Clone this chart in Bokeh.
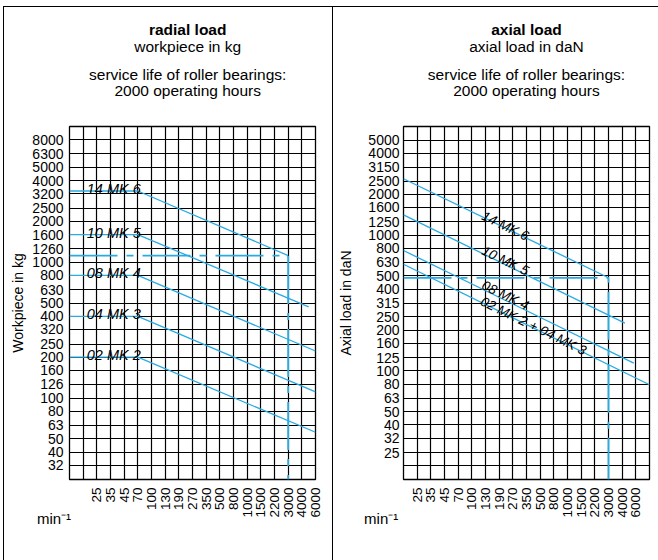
import math
import numpy as np
from bokeh.plotting import figure
from bokeh.layouts import row
from bokeh.models import (Range1d, FixedTicker, Title, ColumnDataSource,
                          NumeralTickFormatter)
from bokeh.core.properties import value
from bokeh.embed import file_html
from bokeh.resources import INLINE

FONT = "Liberation Sans"
BLUE = "#29ABE2"

# ---------------- data ----------------
speed_labels = ["25", "35", "45", "70", "100", "130", "190", "270", "350",
                "500", "800", "1000", "1500", "2200", "3000", "4000", "6000"]

radial_ticks = [8000, 6300, 5000, 4000, 3200, 2500, 2000, 1600, 1260, 1000,
                800, 630, 500, 400, 320, 250, 200, 160, 126, 100, 80, 63, 50, 40, 32]
axial_ticks = [5000, 4000, 3150, 2500, 2000, 1600, 1250, 1000, 800, 630, 500,
               400, 315, 250, 200, 160, 125, 100, 80, 63, 50, 40, 32, 25]
axial_grid_extra = [20]

# radial load (workpiece in kg); x = column on the speed grid
radial_names = ["14 MK 6", "10 MK 5", "08 MK 4", "04 MK 3", "02 MK 2"]
mk6_rad_col = [0, 5, 16]
mk6_rad_kg = [3350, 3350, 1120]
mk5_rad_col = [0, 5, 17.5]
mk5_rad_kg = [1600, 1600, 470]
mk4_rad_col = [0, 5, 18]
mk4_rad_kg = [800, 800, 222]
mk3_rad_col = [0, 5, 18]
mk3_rad_kg = [400, 400, 111]
mk2_rad_col = [0, 5, 18]
mk2_rad_kg = [200, 200, 56]
radial_guide_col = 16
radial_guide_kg = 1120

# axial load (daN)
axial_names = ["14 MK 6", "10 MK 5", "08 MK 4", "02 MK 2 + 04 MK 3"]
mk6_ax_col = [0, 15]
mk6_ax_dan = [2600, 485]
mk5_ax_col = [0, 16.2]
mk5_ax_dan = [1410, 225]
mk4_ax_col = [0, 16.85]
mk4_ax_dan = [770, 114]
mk23_ax_col = [0, 18]
mk23_ax_dan = [610, 79]
axial_guide_col = 15
axial_guide_dan = 485

radial_titles = ["radial load", "workpiece in kg",
                 "service life of roller bearings:", "2000 operating hours"]
axial_titles = ["axial load", "axial load in daN",
                "service life of roller bearings:", "2000 operating hours"]

# ---------------- layout constants ----------------
H = 560
FT, FH = 126, 353
FW = 246
NCOL = 18
TITLE_PX = 15.5

# Arial / Liberation Sans advance widths (1/1000 em) for title centring
W_REG = {" ": 278, "a": 556, "b": 556, "c": 500, "d": 556, "e": 556, "f": 278,
         "g": 556, "h": 556, "i": 222, "k": 500, "l": 222, "n": 556, "o": 556,
         "p": 556, "r": 333, "s": 500, "t": 278, "u": 556, "v": 500, "w": 722,
         "x": 500, "N": 722, "0": 556, "2": 556, ":": 278}
W_BOLD = {" ": 278, "a": 556, "d": 611, "i": 278, "l": 278, "o": 611, "r": 389,
          "x": 556}


def text_width(s, bold=False):
    tab = W_BOLD if bold else W_REG
    return sum(tab.get(ch, 556) for ch in s) * TITLE_PX / 1000.0


def make_panel(width, fl, lo, hi, yticks, ygrid, first_pos, ylabel,
               ylabel_standoff, ytick_standoff, css_bg):
    fr = width - fl - FW
    p = figure(width=width, height=H, output_backend="svg", toolbar_location=None,
               tools="", x_range=Range1d(0, NCOL),
               y_range=Range1d(10 ** lo, 10 ** hi), y_axis_type="log",
               min_border_left=fl, min_border_right=fr,
               min_border_top=FT, min_border_bottom=H - FT - FH)
    p.title.visible = False
    p.background_fill_color = "white"
    p.border_fill_alpha = 0
    p.outline_line_color = "black"
    p.outline_line_width = 1.3
    p.styles = css_bg

    # y axis
    ya = p.yaxis[0]
    ya.ticker = FixedTicker(ticks=yticks, minor_ticks=[])
    ya.formatter = NumeralTickFormatter(format="0")
    ya.axis_line_color = None
    ya.major_tick_line_color = None
    ya.minor_tick_line_color = None
    ya.major_tick_out = 0
    ya.major_tick_in = 0
    ya.major_label_standoff = ytick_standoff
    ya.major_label_text_font = FONT
    ya.major_label_text_font_size = "14px"
    ya.major_label_text_color = "black"
    ya.axis_label = ylabel
    ya.axis_label_text_font = FONT
    ya.axis_label_text_font_size = "14px"
    ya.axis_label_text_font_style = "normal"
    ya.axis_label_text_color = "black"
    ya.axis_label_standoff = ylabel_standoff

    # x axis
    xpos = [first_pos + i for i in range(len(speed_labels))]
    xa = p.xaxis[0]
    xa.ticker = FixedTicker(ticks=xpos, minor_ticks=[])
    xa.major_label_overrides = {pos: lab for pos, lab in zip(xpos, speed_labels)}
    xa.major_label_orientation = math.pi / 2
    xa.axis_line_color = None
    xa.major_tick_line_color = None
    xa.minor_tick_line_color = None
    xa.major_tick_out = 0
    xa.major_tick_in = 0
    xa.major_label_standoff = 8
    xa.major_label_text_font = FONT
    xa.major_label_text_font_size = "13.5px"
    xa.major_label_text_color = "black"

    # grid
    p.xgrid.ticker = FixedTicker(ticks=list(range(NCOL + 1)))
    p.ygrid.ticker = FixedTicker(ticks=ygrid)
    for g in (p.xgrid[0], p.ygrid[0]):
        g.grid_line_color = "black"
        g.grid_line_width = 1.2
        g.grid_line_alpha = 1.0
    return p


def add_titles(p, texts, unit_offset, center_from_frame=None):
    def spacer(h):
        p.add_layout(Title(text=" ", text_font_size="10px", standoff=h - 13.2), "above")

    def line(text, style, standoff):
        if center_from_frame is None:
            kw = dict(align="center")
        else:
            w = text_width(text, bold=(style == "bold"))
            kw = dict(align="left", offset=center_from_frame - w / 2.0)
        p.add_layout(Title(text=text, vertical_align="bottom",
                           text_font=FONT, text_font_size="%gpx" % TITLE_PX,
                           text_font_style=style, text_color="black",
                           standoff=standoff, **kw), "above")

    # closest to the frame first
    spacer(28.1)
    line(texts[3], "normal", 0)
    line(texts[2], "normal", -7)
    spacer(13.4)
    line(texts[1], "normal", 0)
    line(texts[0], "bold", -4)

    p.add_layout(Title(text="min\u207b\u00b9", align="left", vertical_align="top",
                       offset=unit_offset, standoff=-21, text_font=FONT,
                       text_font_size="15px", text_font_style="normal",
                       text_color="black"), "below")


# ---------------- left panel: radial load ----------------
W1 = 333
css1 = {
    "background-image": "linear-gradient(#000,#000), linear-gradient(#000,#000), linear-gradient(#000,#000)",
    "background-size": "330px 1px, 1px 554px, 1px 554px",
    "background-position": "3px 6px, 3px 6px, 332px 6px",
    "background-repeat": "no-repeat",
}
p1 = make_panel(W1, 69, 1.4, 4.0, radial_ticks, radial_ticks, 2,
                "Workpiece in kg", 3, 6, css1)

rad_cols = [mk6_rad_col, mk5_rad_col, mk4_rad_col, mk3_rad_col, mk2_rad_col]
rad_vals = [mk6_rad_kg, mk5_rad_kg, mk4_rad_kg, mk3_rad_kg, mk2_rad_kg]
for c, v in zip(rad_cols, rad_vals):
    p1.line(c, v, line_color=BLUE, line_width=1.3)

p1.line([0, radial_guide_col, radial_guide_col],
        [radial_guide_kg, radial_guide_kg, 10 ** 1.4],
        line_color=BLUE, line_width=1.8, line_dash="48 9 7 9")

lift1 = 10 ** (2.0 * 2.6 / FH)
src1 = ColumnDataSource(dict(x=[1.26] * len(radial_names),
                             y=[v[0] * lift1 for v in rad_vals],
                             text=radial_names))
p1.text(x="x", y="y", text="text", source=src1, text_font=value(FONT),
        text_font_size="14.5px", text_font_style="italic",
        text_baseline="alphabetic", text_align="left", text_color="black")

add_titles(p1, radial_titles, -32.6, center_from_frame=118.2)

# ---------------- right panel: axial load ----------------
W2 = 325
LO2, HI2 = 1.2, 3.8
css2 = {
    "background-image": "linear-gradient(#000,#000)",
    "background-size": "325px 1px",
    "background-position": "0px 6px",
    "background-repeat": "no-repeat",
}
p2 = make_panel(W2, 70, LO2, HI2, axial_ticks, axial_ticks + axial_grid_extra, 1,
                "Axial load in daN", 11, 4, css2)

ax_cols = [mk6_ax_col, mk5_ax_col, mk4_ax_col, mk23_ax_col]
ax_vals = [mk6_ax_dan, mk5_ax_dan, mk4_ax_dan, mk23_ax_dan]
for c, v in zip(ax_cols, ax_vals):
    p2.line(c, v, line_color=BLUE, line_width=1.3)

p2.line([0, axial_guide_col, axial_guide_col],
        [axial_guide_dan, axial_guide_dan, 10 ** LO2],
        line_color=BLUE, line_width=1.8, line_dash="48 9 7 9")

label_cols = [5.8, 5.8, 5.8, 5.7]
label_lift_px = [2.0, 4.0, 5.0, 2.0]
px_per_log = FH / (HI2 - LO2)
px_per_col = FW / NCOL
lx, ly, la = [], [], []
for c, v, lc, lp in zip(ax_cols, ax_vals, label_cols, label_lift_px):
    logs = np.log10(v)
    lg = float(np.interp(lc, c, logs)) + lp / px_per_log
    slope = (logs[0] - logs[-1]) / (c[-1] - c[0])
    ang = -math.atan(slope * px_per_log / px_per_col)
    lx.append(lc)
    ly.append(10 ** lg)
    la.append(ang)
src2 = ColumnDataSource(dict(x=lx, y=ly, a=la, text=axial_names))
p2.text(x="x", y="y", text="text", angle="a", source=src2, text_font=value(FONT),
        text_font_size="13.5px", text_font_style="italic",
        text_baseline="alphabetic", text_align="left", text_color="black")

add_titles(p2, axial_titles, -39.4)

layout = row(p1, p2)
open("out.html", "w").write(file_html(layout, INLINE))
